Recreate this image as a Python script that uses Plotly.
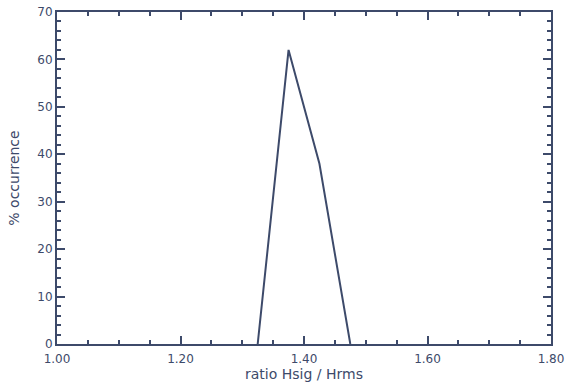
import plotly.graph_objects as go

ratio = [1.325, 1.375, 1.425, 1.475]
occurrence = [0, 62, 38, 0]
x_ticks = [1.00, 1.20, 1.40, 1.60, 1.80]
x_labels = ["1.00", "1.20", "1.40", "1.60", "1.80"]
y_ticks = [0, 10, 20, 30, 40, 50, 60, 70]

ink = "#3d4a6a"

fig = go.Figure()
fig.add_trace(go.Scatter(x=ratio, y=occurrence, mode="lines",
                         line=dict(color=ink, width=2), showlegend=False,
                         hoverinfo="skip"))

axis_common = dict(showgrid=False, zeroline=False, showline=True, linecolor=ink,
                   linewidth=2, mirror="ticks", ticks="inside", tickcolor=ink,
                   tickwidth=1.5, ticklen=8, automargin=False,
                   ticklabeloverflow="allow",
                   tickfont=dict(family="DejaVu Sans", size=12, color=ink))

fig.update_layout(
    width=569, height=388,
    margin=dict(l=57, r=18, t=12, b=44),
    paper_bgcolor="white", plot_bgcolor="white",
    xaxis=dict(range=[1.0, 1.8], tickvals=x_ticks, ticktext=x_labels,
               ticklabelstandoff=3,
               minor=dict(dtick=0.05, ticks="inside", ticklen=4, tickcolor=ink, tickwidth=1.5),
               title=dict(text="ratio Hsig / Hrms", standoff=2,
                          font=dict(family="DejaVu Sans", size=14, color=ink)),
               **axis_common),
    yaxis=dict(range=[0, 70], tickvals=y_ticks,
               minor=dict(dtick=2, ticks="inside", ticklen=4, tickcolor=ink, tickwidth=1.5),
               title=dict(text="% occurrence", standoff=14,
                          font=dict(family="DejaVu Sans", size=14, color=ink)),
               **axis_common),
)

fig.write_html("out.html", config={"displayModeBar": False},
               post_script="document.body.style.margin='0';document.body.style.overflow='hidden';")
